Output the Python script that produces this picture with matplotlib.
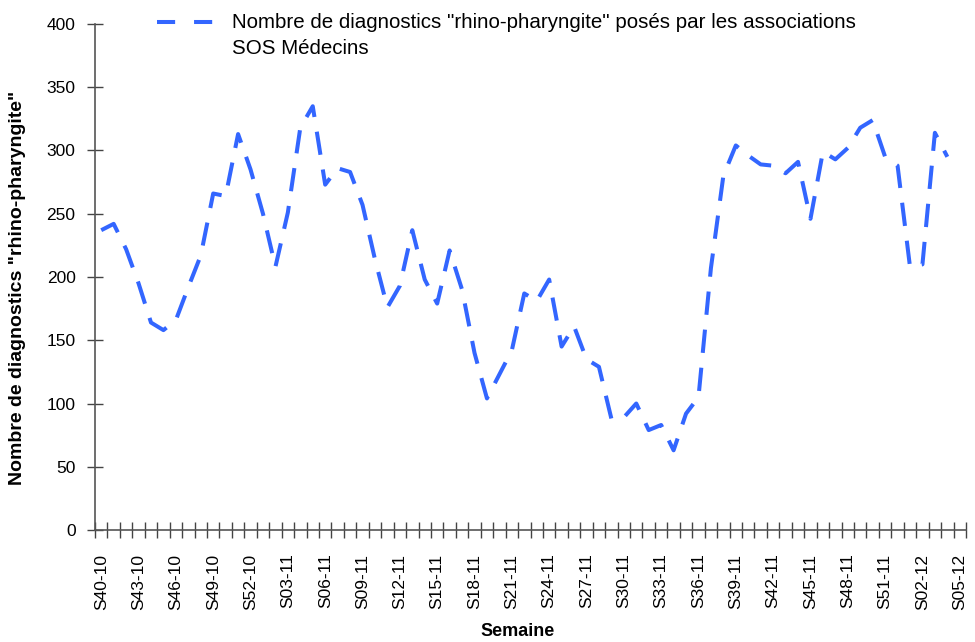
import matplotlib
matplotlib.use("Agg")
import matplotlib.pyplot as plt
from matplotlib.lines import Line2D

plt.rcParams["font.family"] = ["Liberation Sans", "DejaVu Sans"]

# weeks S40-10 .. S05-12 (category axis)
weeks_2010 = [f"S{w:02d}-10" for w in range(40, 53)]
weeks_2011 = [f"S{w:02d}-11" for w in range(1, 53)]
weeks_2012 = [f"S{w:02d}-12" for w in range(1, 6)]
week_labels = weeks_2010 + weeks_2011 + weeks_2012

# SOS Medecins "rhino-pharyngite" diagnoses (last week S05-12 has no value)
diagnostics = [
    237, 242, 222, 195, 164, 158, 166, 192, 217, 266,
    264, 313, 285, 250, 208, 251, 318, 335, 273, 286,
    283, 257, 214, 176, 193, 237, 198, 179, 221, 190,
    140, 104, 123, 142, 187, 181, 198, 145, 161, 135,
    129, 88, 89, 100, 79, 83, 63, 92, 105, 207,
    280, 304, 296, 289, 288, 282, 291, 246, 299, 293,
    302, 318, 324, 295, 288, 208, 210, 314, 295,
]

y_ticks = [0, 50, 100, 150, 200, 250, 300, 350, 400]
legend_lines = ['Nombre de diagnostics "rhino-pharyngite" posés par les associations',
                "SOS Médecins"]

LINE_COLOR = "#3366FF"
W, H = 975, 642

fig = plt.figure(figsize=(W / 100, H / 100), dpi=100)
ax = fig.add_axes([95 / W, 1 - 530 / H, (966 - 95) / W, (530 - 24) / H])

x = list(range(len(diagnostics)))
ax.plot(x, diagnostics, color=LINE_COLOR, linewidth=2.9, dashes=(5.8, 3.7),
        solid_joinstyle="miter")

ax.set_xlim(-0.5, len(week_labels) - 0.5)
ax.set_ylim(0, 400)

# labels every 3 weeks, tick marks between categories
label_pos = list(range(0, len(week_labels), 3))
ax.set_xticks(label_pos)
ax.set_xticklabels([week_labels[i] for i in label_pos], rotation=90, fontsize=12.5)
ax.set_xticks([i - 0.5 for i in range(len(week_labels) + 1)], minor=True)
ax.tick_params(axis="x", which="major", length=0, pad=17)
ax.tick_params(axis="x", which="minor", direction="inout", length=12, width=1.0, color="#444444")

ax.set_yticks(y_ticks)
ax.set_yticklabels([str(v) for v in y_ticks], fontsize=12.5)
ax.tick_params(axis="y", direction="inout", length=12, width=1.0, color="#444444", pad=8)

for side in ["top", "right"]:
    ax.spines[side].set_visible(False)
for side in ["left", "bottom"]:
    ax.spines[side].set_color("#555555")
    ax.spines[side].set_linewidth(1.2)

ax.set_xlabel("Semaine", fontsize=13, fontweight="bold", va="center")
ax.xaxis.set_label_coords((518 - 95) / (966 - 95), -(631 - 530) / (530 - 24))
ax.set_ylabel('Nombre de diagnostics "rhino-pharyngite"', fontsize=14, fontweight="bold",
              va="center")
ax.yaxis.set_label_coords(-(95 - 18) / (966 - 95), (530 - 288) / (530 - 24))

# legend drawn at the top of the figure
fig.add_artist(Line2D([157 / W, 214 / W], [1 - 22 / H, 1 - 22 / H], color=LINE_COLOR,
                      linewidth=2.9, dashes=(4.5, 4.7)))
fig.text(232 / W, 1 - 22 / H, legend_lines[0], fontsize=14.8, va="center", ha="left")
fig.text(232 / W, 1 - 48 / H, legend_lines[1], fontsize=14.8, va="center", ha="left")

fig.savefig("out.png", dpi=100)
